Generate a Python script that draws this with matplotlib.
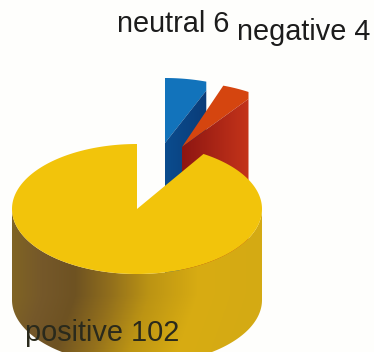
#!/usr/bin/env python3
import numpy as np
import matplotlib
matplotlib.use("Agg")
import matplotlib.pyplot as plt
from matplotlib.colors import LinearSegmentedColormap
from matplotlib.patches import PathPatch
from matplotlib.path import Path

# slices run clockwise from 12 o'clock
labels = ["neutral", "negative", "positive"]
values = [6, 4, 102]

# pie geometry in pixels
RX = 125
RY = 65
DEPTH = 91
centers = [(165, 143), (182, 147), (137, 209)]
top_colors = ["#1273BB", "#D5450F", "#F2C40B"]
cut_colors = [["#0A4C8E", "#0B3C78"], ["#8E1612", "#C4341A"], None]
cut_drop = [9, 7, 0]  # rim thickness left visible above the cut face
label_pos = [(117, 32), (237, 40), (25, 341)]
text_colors = ["#1c1c1c", "#1c1c1c", "#2a2a1c"]

SIDE_COLORS = [(0.0, "#806424"), (0.12, "#75582A"), (0.25, "#6E5222"),
               (0.4, "#93701C"), (0.55, "#BC9414"), (0.75, "#D8AC12"),
               (1.0, "#D4AA14")]


def rim(cx, cy, t0, t1, n=200):
    t = np.radians(np.linspace(t0, t1, n))
    return np.column_stack([cx + RX * np.sin(t), cy - RY * np.cos(t)])


def shaded(ax, pts, grad, colors, extent, zorder):
    # gradient image clipped to a polygon
    codes = [Path.MOVETO] + [Path.LINETO] * (len(pts) - 1)
    clip = PathPatch(Path(pts, codes), transform=ax.transData, fc="none", lw=0)
    ax.add_patch(clip)
    cmap = LinearSegmentedColormap.from_list("shade", colors)
    im = ax.imshow(grad, cmap=cmap, vmin=0, vmax=1, extent=extent, aspect="auto",
                   origin="upper", zorder=zorder)
    im.set_clip_path(clip)


def main():
    plt.rcParams["font.family"] = ["Liberation Sans", "DejaVu Sans"]
    fig = plt.figure(figsize=(3.74, 3.52), dpi=100, facecolor="#FEFEFC")
    ax = fig.add_axes([0, 0, 1, 1])
    ax.axis("off")

    edges = np.concatenate([[0], np.cumsum(values)]) / np.sum(values) * 360

    # the two pulled-out slices: cut face under the top face
    for i in range(2):
        cx, cy = centers[i]
        t1 = edges[i + 1]
        arc = rim(cx, cy, edges[i], t1)
        end = arc[-1]
        drop = cut_drop[i]
        top = np.vstack([[cx, cy], arc, [end[0], end[1] + drop]])
        ax.fill(top[:, 0], top[:, 1], color=top_colors[i], lw=0, zorder=2 + i)
        face = np.array([[cx, cy], [end[0], end[1] + drop],
                         [end[0], end[1] + DEPTH * 2], [cx, cy + DEPTH * 2]])
        shaded(ax, face, np.linspace(0, 1, 64)[None, :], cut_colors[i],
               (cx, end[0], cy + DEPTH * 2, end[1]), 2 + i)

    # outer wall of the big slice, brown on the left and gold on the right
    cx, cy = centers[2]
    front = rim(cx, cy, 90, 270)
    wall = np.vstack([front, front[::-1] + [0, DEPTH]])
    xx, yy = np.meshgrid(np.linspace(0, 1, 256), np.linspace(0, 1, 128))
    grad = np.clip(xx + 0.22 * np.clip(yy - 0.55, 0, 1), 0, 1)
    shaded(ax, wall, grad, SIDE_COLORS, (cx - RX, cx + RX, cy + RY + DEPTH, cy), 5)

    arc = rim(cx, cy, edges[2], edges[3], 400)
    pts = np.vstack([[cx, cy], arc])
    ax.fill(pts[:, 0], pts[:, 1], color=top_colors[2], lw=0, zorder=6)

    for name, val, (x, y), c in zip(labels, values, label_pos, text_colors):
        ax.text(x, y, f"{name} {val}", fontsize=20.8, color=c, ha="left",
                va="baseline", zorder=7)

    ax.set_xlim(0, 374)
    ax.set_ylim(352, 0)
    fig.savefig("out.png", dpi=100, facecolor=fig.get_facecolor())


if __name__ == "__main__":
    main()
